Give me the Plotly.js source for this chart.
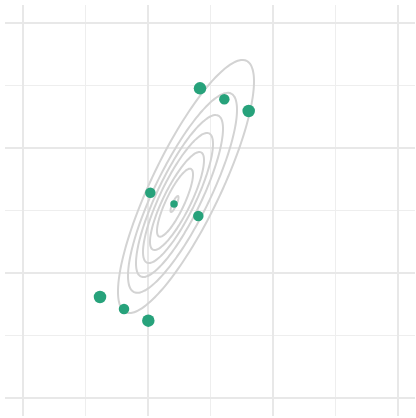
<!DOCTYPE html>
<html>
<head>
<meta charset="utf-8">
<script src="https://cdn.plot.ly/plotly-3.0.1.min.js"></script>
<style>html,body{margin:0;padding:0;background:#fff;}#chart{width:416px;height:418px;}</style>
</head>
<body>
<div id="chart"></div>
<script>
// Sample points
const pointX = [2.832, 3.221, 3.611, 2.037, 2.416, 2.805, 1.232, 1.616, 2.005];
const pointY = [4.955, 4.779, 4.592, 3.285, 3.104, 2.912, 1.616, 1.424, 1.237];

// Contour ellipses (centre, half-width, half-height, correlation)
const ellCX = [2.608, 2.552, 2.504, 2.480, 2.464, 2.432, 2.424];
const ellCY = [3.384, 3.283, 3.232, 3.200, 3.152, 3.125, 3.104];
const ellHW = [1.088, 0.872, 0.696, 0.560, 0.432, 0.288, 0.064];
const ellHH = [2.024, 1.600, 1.296, 1.040, 0.784, 0.544, 0.128];
const ellRho = 0.83;

const pointSizes = [12.5, 10.5, 12.5, 10.5, 7.5, 10.5, 12.5, 10.5, 12.5];

const traces = [];
const N = 120;
for (let k = 0; k < ellCX.length; k++) {
  const xs = [], ys = [];
  for (let i = 0; i <= N; i++) {
    const t = 2 * Math.PI * i / N;
    xs.push(ellCX[k] + ellHW[k] * Math.cos(t));
    ys.push(ellCY[k] + ellHH[k] * (ellRho * Math.cos(t) + Math.sqrt(1 - ellRho * ellRho) * Math.sin(t)));
  }
  traces.push({
    x: xs, y: ys, type: 'scatter', mode: 'lines',
    line: {color: '#d3d3d3', width: 2, shape: 'spline'},
    hoverinfo: 'skip', showlegend: false
  });
}
traces.push({
  x: pointX, y: pointY, type: 'scatter', mode: 'markers',
  marker: {color: '#27a27b', size: pointSizes, opacity: 1, line: {width: 0}},
  showlegend: false
});

const axBase = {
  showticklabels: false, ticks: '', zeroline: false, showline: false,
  dtick: 2, tick0: 0, showgrid: true, gridcolor: '#e8e8e8', gridwidth: 2,
  minor: {dtick: 1, tick0: 0, showgrid: true, gridcolor: '#eeeeee', gridwidth: 1.3}
};

const layout = {
  width: 416, height: 418,
  margin: {l: 5, r: 1, t: 5, b: 2, pad: 0},
  paper_bgcolor: '#ffffff', plot_bgcolor: '#ffffff',
  xaxis: Object.assign({}, axBase, {range: [-0.288, 6.272]}),
  yaxis: Object.assign({}, axBase, {range: [-0.288, 6.288]}),
  showlegend: false
};

Plotly.newPlot('chart', traces, layout, {displayModeBar: false, staticPlot: true});
</script>
</body>
</html>
